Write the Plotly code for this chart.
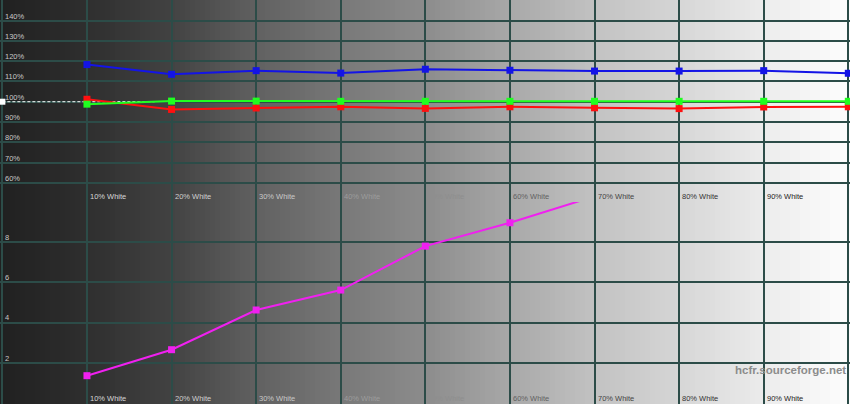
import numpy as np
import plotly.graph_objects as go
from plotly.subplots import make_subplots

# ---- data ----
levels = [10, 20, 30, 40, 50, 60, 70, 80, 90, 100]
red_pct = [101.2, 96.2, 96.9, 97.5, 96.7, 97.5, 97.0, 96.6, 97.4, 97.5]
green_pct = [98.8, 100.3, 100.3, 100.2, 100.2, 100.2, 100.2, 100.2, 100.2, 100.2]
blue_pct = [118.3, 113.5, 115.3, 114.1, 116.0, 115.5, 115.1, 115.1, 115.3, 114.0]
de_levels = [10, 20, 30, 40, 50, 60, 70, 80, 90]
delta_e = [1.37, 2.66, 4.63, 5.62, 7.8, 8.96, 10.27, 11.3, 12.2]
ref_x = [0, 18]
ref_y = [100, 100]
x_labels = ["10% White", "20% White", "30% White", "40% White", "50% White",
            "60% White", "70% White", "80% White", "90% White"]
top_ticks = [60, 70, 80, 90, 100, 110, 120, 130, 140]
top_tick_text = ["60%", "70%", "80%", "90%", "100%", "110%", "120%", "130%", "140%"]
bot_ticks = [2, 4, 6, 8]
bot_tick_text = ["2", "4", "6", "8"]

# ---- style ----
W, H = 850, 404
grid_col = "#2c4c48"
label_cols = ["#d6d6d6", "#cfcfcf", "#c8c8c8", "#9c9c9c", "#8e8e8e",
              "#626262", "#444444", "#333333", "#222222"]
bg_stops_x = [0.0, 0.1, 0.2, 0.3, 0.4, 0.5, 0.6, 0.7, 0.8, 0.9, 1.0]
bg_stops_v = [32, 46, 66, 96, 120, 140, 168, 194, 214, 236, 253]

fig = make_subplots(rows=2, cols=1, shared_xaxes=False, vertical_spacing=0.0)

# background gradient (stripes below gridlines)
n = 170
shapes = []
for i in range(n):
    f = (i + 0.5) / n
    v = int(round(np.interp(f, bg_stops_x, bg_stops_v)))
    shapes.append(dict(type="rect", xref="paper", yref="paper",
                       x0=i / n, x1=(i + 1) / n + 0.001, y0=0, y1=1,
                       fillcolor=f"rgb({v},{v},{v})", line=dict(width=0),
                       layer="below"))

mk = dict(symbol="square", size=7)
fig.add_trace(go.Scatter(x=ref_x, y=ref_y, mode="lines",
                         line=dict(color="white", width=1, dash="3px,2px"),
                         hoverinfo="skip"), row=1, col=1)
fig.add_trace(go.Scatter(x=[ref_x[0]], y=[ref_y[0]], mode="markers",
                         marker=dict(symbol="square", size=6, color="white"),
                         cliponaxis=False, hoverinfo="skip"), row=1, col=1)
fig.add_trace(go.Scatter(x=levels, y=red_pct, mode="lines+markers",
                         line=dict(color="#ff1010", width=2),
                         marker=dict(color="#ff1010", **mk)), row=1, col=1)
fig.add_trace(go.Scatter(x=levels, y=green_pct, mode="lines+markers",
                         line=dict(color="#20ff20", width=2),
                         marker=dict(color="#20ff20", **mk)), row=1, col=1)
fig.add_trace(go.Scatter(x=levels, y=blue_pct, mode="lines+markers",
                         line=dict(color="#1414e6", width=2),
                         marker=dict(color="#1414e6", **mk)), row=1, col=1)
fig.add_trace(go.Scatter(x=de_levels, y=delta_e, mode="lines+markers",
                         line=dict(color="#f020f0", width=2),
                         marker=dict(color="#f020f0", **mk)), row=2, col=1)

xr = [-0.28, 100.2]
for ax in ["xaxis", "xaxis2"]:
    fig.layout[ax].update(range=xr, tickvals=list(range(0, 101, 10)),
                          showticklabels=False, showgrid=True,
                          gridcolor=grid_col, gridwidth=1.5, zeroline=False,
                          showline=False, ticks="")
fig.layout.yaxis.update(domain=[0.5, 1.0], range=[50.6, 150.1],
                        tickvals=list(range(60, 151, 10)), showticklabels=False,
                        showgrid=True, gridcolor=grid_col, gridwidth=1.5,
                        zeroline=False, ticks="")
fig.layout.yaxis2.update(domain=[0.0, 0.5], range=[-0.035, 9.99],
                         tickvals=[0, 2, 4, 6, 8], showticklabels=False,
                         showgrid=True, gridcolor=grid_col, gridwidth=1.5,
                         zeroline=False, ticks="")

ann = []
font = "Liberation Sans, Arial, sans-serif"
for v, t in zip(top_ticks, top_tick_text):
    ann.append(dict(x=0, xref="paper", y=v, yref="y", text=t, showarrow=False,
                    xanchor="left", yanchor="middle", xshift=3, yshift=4.5,
                    font=dict(family=font, size=7.5, color="#c8c8c8")))
for v, t in zip(bot_ticks, bot_tick_text):
    ann.append(dict(x=0, xref="paper", y=v, yref="y2", text=t, showarrow=False,
                    xanchor="left", yanchor="middle", xshift=3, yshift=5,
                    font=dict(family=font, size=7.5, color="#c8c8c8")))
for lv, t, c in zip(levels, x_labels, label_cols):
    for yr, ys in [("y domain", 5.5), ("y2 domain", 6)]:
        ann.append(dict(x=lv, xref="x", y=0, yref=yr, text=t, showarrow=False,
                        xanchor="left", yanchor="middle", xshift=1, yshift=ys,
                        font=dict(family=font, size=7.5, color=c)))
wm_x = 790 / W * (xr[1] - xr[0]) + xr[0]
ann.append(dict(x=wm_x, xref="x", y=0, yref="y2 domain",
                text="<b>hcfr.sourceforge.net</b>", showarrow=False,
                xanchor="center", yanchor="middle", yshift=34,
                font=dict(family=font, size=11.5, color="#8c8c8c")))

fig.update_layout(width=W, height=H, margin=dict(l=0, r=0, t=0, b=0),
                  paper_bgcolor="#202020", plot_bgcolor="rgba(0,0,0,0)",
                  showlegend=False, shapes=shapes, annotations=ann)

fig.write_html("out.html", config={"displayModeBar": False},
               post_script="document.body.style.margin='0';document.body.style.overflow='hidden';")
